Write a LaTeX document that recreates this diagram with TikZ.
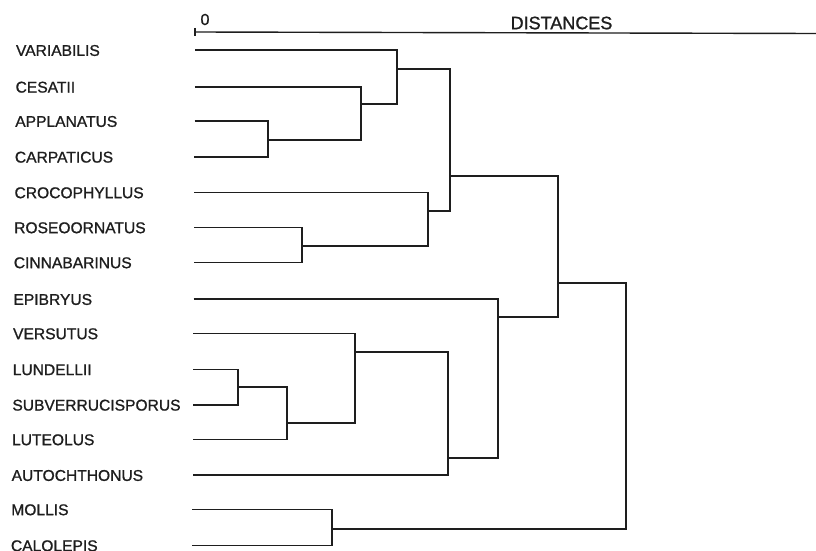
\documentclass[tikz,border=0pt]{standalone}
\usepackage{fontspec}
\setmainfont{Liberation Sans}
\newfontfamily\lettering[FakeBold=1]{Liberation Sans}
\definecolor{ink}{RGB}{30,30,30}
\begin{document}
\begin{tikzpicture}[x=1pt,y=-1pt,
  branch/.style={draw=ink,line width=1.6pt,line join=miter},
  lbl/.style={anchor=west,inner sep=0pt,text=ink,font=\lettering\fontsize{15.6}{18}\selectfont},
  axislbl/.style={inner sep=0pt,text=ink}]
\useasboundingbox[fill=white] (0,0) rectangle (816,551);
% axis
\coordinate (a0) at (195,32);
\coordinate (a1) at (816,33.5);
\coordinate (t0) at (195,28);
\coordinate (t1) at (195,36);
\draw[branch,line width=1.4pt] (a0) -- (a1);
\draw[branch,line width=1.4pt] (t0) -- (t1);
\node[axislbl,font=\lettering\fontsize{16}{17}\selectfont] (zero) at (205,19.5) {0};
\node[axislbl,font=\lettering\fontsize{18}{20}\selectfont] (dist) at (561.5,23) {DISTANCES};
% leaves
\foreach \i/\y/\nm in {1/50/VARIABILIS,2/86.7/CESATII,3/121/APPLANATUS,4/156.7/CARPATICUS,
  5/192.3/CROCOPHYLLUS,6/227.3/ROSEOORNATUS,7/262.3/CINNABARINUS,8/299/EPIBRYUS,
  9/333.3/VERSUTUS,10/369.3/LUNDELLII,11/404.7/SUBVERRUCISPORUS,12/439.3/LUTEOLUS,
  13/475/AUTOCHTHONUS,14/509.3/MOLLIS,15/545.3/CALOLEPIS}{
  \pgfmathsetmacro{\lx}{15.8-0.36*(\i-1)}
  \pgfmathsetmacro{\sx}{195-0.2*(\i-1)}
  \node[lbl] (n\i) at (\lx,\y+0.5) {\nm};
  \coordinate (l\i) at (\sx,\y);
}
% junctions (x of vertical, y of outgoing branch)
\coordinate (j1) at (268,140);
\coordinate (j2) at (361,104);
\coordinate (j3) at (397,69);
\coordinate (j4) at (302,246);
\coordinate (j5) at (428,211);
\coordinate (j6) at (450,176);
\coordinate (j7) at (238,387);
\coordinate (j8) at (287,423);
\coordinate (j9) at (355,352);
\coordinate (j10) at (448,458);
\coordinate (j11) at (498,317);
\coordinate (j12) at (558,283);
\coordinate (j13) at (332,529);
\coordinate (j14) at (626,283);
% branches
\draw[branch] (l3) -| (j1) |- (l4);
\draw[branch] (l2) -| (j2) |- (j1);
\draw[branch] (l1) -| (j3) |- (j2);
\draw[branch] (l6) -| (j4) |- (l7);
\draw[branch] (l5) -| (j5) |- (j4);
\draw[branch] (j3) -| (j6) |- (j5);
\draw[branch] (l10) -| (j7) |- (l11);
\draw[branch] (j7) -| (j8) |- (l12);
\draw[branch] (l9) -| (j9) |- (j8);
\draw[branch] (j9) -| (j10) |- (l13);
\draw[branch] (l8) -| (j11) |- (j10);
\draw[branch] (j6) -| (j12) |- (j11);
\draw[branch] (l14) -| (j13) |- (l15);
\draw[branch] (j12) -| (j14) |- (j13);
\end{tikzpicture}
\end{document}
